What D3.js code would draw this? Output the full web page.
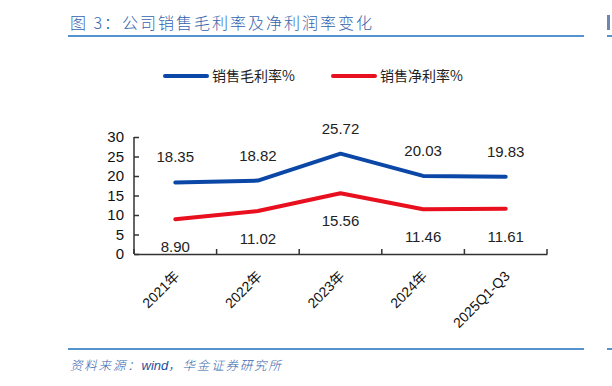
<!DOCTYPE html>
<html><head><meta charset="utf-8">
<script src="https://cdn.jsdelivr.net/npm/d3@7"></script>
<style>body{margin:0;background:#fff}svg{display:block}</style>
</head><body>
<svg id="c" width="612" height="386"></svg>
<script>
const categories = ["2021年","2022年","2023年","2024年","2025Q1-Q3"];
const grossMargin = [18.35, 18.82, 25.72, 20.03, 19.83];
const netMargin = [8.90, 11.02, 15.56, 11.46, 11.61];
const yTicks = [0,5,10,15,20,25,30];
const seriesNames = ["销售毛利率%","销售净利率%"];
const colors = ["#0b47a6","#e8101e"];

const svg = d3.select("#c");
const font = "Arial, 'Liberation Sans', 'Noto Sans CJK SC', sans-serif";

// title & rules
svg.append("text").attr("x",70).attr("y",29).attr("font-family","'Noto Sans CJK SC', sans-serif")
  .attr("font-size",16).attr("font-weight",300).attr("fill","#3463ad").attr("letter-spacing",2).text("图 3：公司销售毛利率及净利润率变化");
svg.append("line").attr("x1",68).attr("x2",584).attr("y1",36).attr("y2",36).attr("stroke","#1c6fbf").attr("stroke-width",1.5);
svg.append("line").attr("x1",607).attr("x2",612).attr("y1",36).attr("y2",36).attr("stroke","#1c6fbf").attr("stroke-width",1.5);
svg.append("rect").attr("x",607).attr("y",15).attr("width",3).attr("height",15).attr("fill","#6f86b0");
svg.append("line").attr("x1",68).attr("x2",584).attr("y1",349).attr("y2",349).attr("stroke","#1c6fbf").attr("stroke-width",1.5);
svg.append("line").attr("x1",607).attr("x2",612).attr("y1",349).attr("y2",349).attr("stroke","#1c6fbf").attr("stroke-width",1.5);
const foot = svg.append("text").attr("x",70).attr("y",370).attr("font-family","'Noto Sans CJK SC', sans-serif")
  .attr("font-size",12.5).attr("font-weight",300).attr("font-style","italic").attr("fill","#3463ad");
foot.append("tspan").attr("letter-spacing",1.8).text("资料来源：");
foot.append("tspan").attr("font-family",font).attr("font-weight",400).attr("font-size",13).attr("fill","#1e4f9e").text("wind");
foot.append("tspan").attr("letter-spacing",1.8).text("，华金证券研究所");

// scales
const x = d3.scaleBand().domain(categories).range([134,547]);
const y = d3.scaleLinear().domain([0,30]).range([254,137]);

// axes
const yAxis = svg.append("g").attr("transform","translate(134,0)")
  .call(d3.axisLeft(y).tickValues(yTicks).tickSize(-5).tickPadding(10));
yAxis.select(".domain").attr("stroke","#333").attr("stroke-width",1.5).attr("d","M0,137V254");
yAxis.selectAll(".tick line").attr("stroke","#333").attr("stroke-width",1.5);
yAxis.selectAll("text").attr("font-family",font).attr("font-size",15).attr("fill","#111");

const xAxis = svg.append("g").attr("transform","translate(0,254)")
  .call(d3.axisBottom(x).tickSize(0).tickFormat(""));
xAxis.select(".domain").attr("stroke","#333").attr("stroke-width",1.5);
const bounds = categories.map(c=>x(c)).concat([x.range()[1]]);
xAxis.selectAll(".bt").data(bounds).enter().append("line").attr("class","bt")
  .attr("x1",d=>d).attr("x2",d=>d).attr("y1",0).attr("y2",-5).attr("stroke","#333").attr("stroke-width",1.5);
xAxis.selectAll(".xl").data(categories).enter().append("text").attr("class","xl")
  .attr("transform",d=>`translate(${x(d)+x.bandwidth()/2+5},${23}) rotate(-45)`)
  .attr("text-anchor","end").attr("font-family",font).attr("font-size",14).attr("fill","#111").text(d=>d);

// lines
const cx = d=>x(d)+x.bandwidth()/2;
const line = d3.line().x((d,i)=>cx(categories[i])).y(d=>y(d));
[grossMargin, netMargin].forEach((s,k)=>{
  svg.append("path").datum(s).attr("d",line).attr("fill","none").attr("stroke",colors[k])
    .attr("stroke-width",4).attr("stroke-linejoin","round").attr("stroke-linecap","round");
});
svg.selectAll(".lg").data(grossMargin).enter().append("text").attr("x",(d,i)=>cx(categories[i])).attr("y",d=>y(d)-20)
  .attr("text-anchor","middle").attr("font-family",font).attr("font-size",15).attr("fill","#222").text(d=>d.toFixed(2));
svg.selectAll(".ln").data(netMargin).enter().append("text").attr("x",(d,i)=>cx(categories[i])).attr("y",d=>y(d)+33)
  .attr("text-anchor","middle").attr("font-family",font).attr("font-size",15).attr("fill","#222").text(d=>d.toFixed(2));

// legend
const lx = [165, 333];
seriesNames.forEach((n,k)=>{
  svg.append("line").attr("x1",lx[k]).attr("x2",lx[k]+42).attr("y1",76).attr("y2",76).attr("stroke",colors[k]).attr("stroke-width",4).attr("stroke-linecap","round");
  svg.append("text").attr("x",lx[k]+47).attr("y",81).attr("font-family","'Noto Sans CJK SC', sans-serif").attr("font-size",14).attr("fill","#222").text(n);
});
</script>
</body></html>
